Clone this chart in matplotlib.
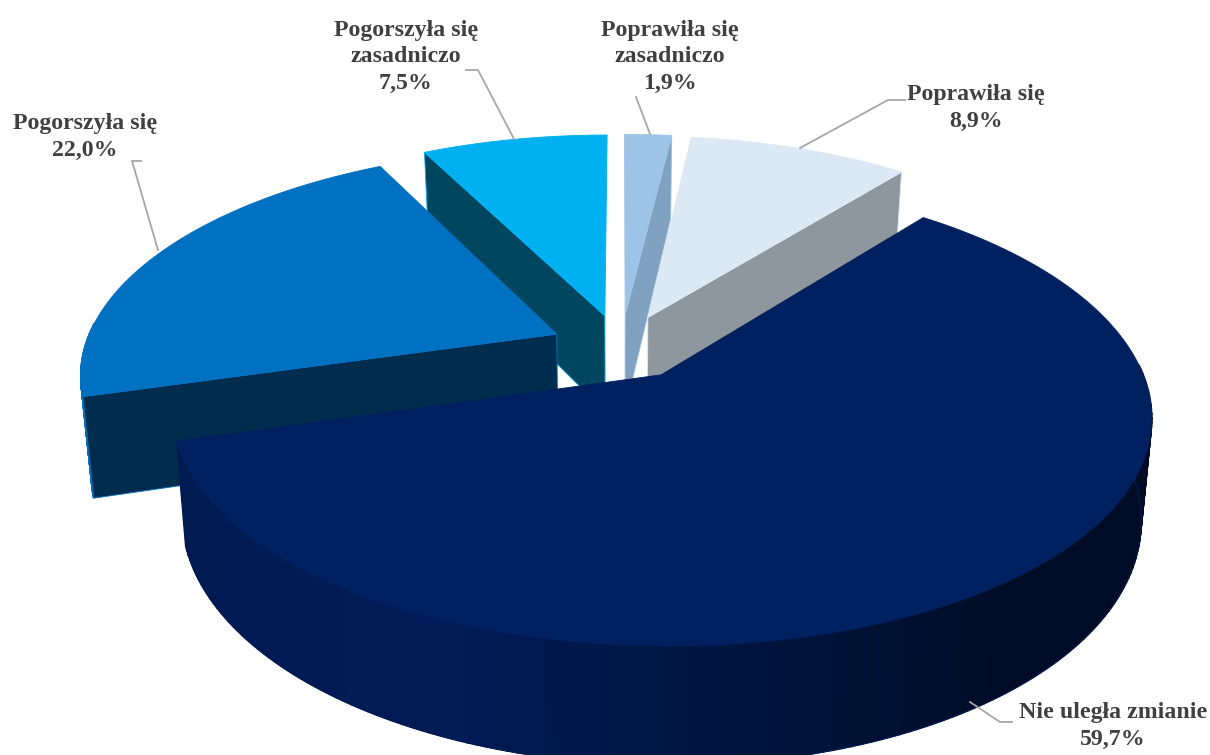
import numpy as np
import matplotlib
matplotlib.use("Agg")
import matplotlib.pyplot as plt
from matplotlib.patches import Polygon

# clockwise from 12 o'clock
labels = ["Poprawiła się\nzasadniczo\n1,9%", "Poprawiła się\n8,9%", "Nie uległa zmianie\n59,7%",
          "Pogorszyła się\n22,0%", "Pogorszyła się\nzasadniczo\n7,5%"]
values = [1.9, 8.9, 59.7, 22.0, 7.5]
top_colors = ["#9dc3e6", "#dce8f4", "#002060", "#0070c0", "#00b0f0"]
cut_colors = ["#80a2c0", "#8e979e", "#00143c", "#002c4d", "#00465f"]
draw_order = [4, 0, 1, 3, 2]

# fake 3d view, in pixels
cx, cy = 621, 347
rx, ry = 472, 218.5
persp_x = 0.168
persp_y = 0.158
depth = 98
explode = 0.15

label_pos = [(670, 57), (976, 108), (1113, 726), (85, 137), (406, 57)]
leaders = [[(636, 97), (650, 134)],
           [(905, 100), (888, 100), (800, 148)],
           [(1012, 722), (1000, 722), (970, 702)],
           [(141, 161), (132, 161), (158, 250)],
           [(466, 70), (478, 70), (514, 139)]]

# colours along the round wall of the big slice, left to right
wall_u = [-1.1, -0.3, 0.25, 0.7, 1.1]
wall_r = [0, 0, 0, 0, 0]
wall_g = [26, 27, 20, 12, 11]
wall_b = [80, 86, 60, 38, 36]


def project(u, v, z=0.0):
    # v goes to the back of the pie, z=1 is the bottom of the pie
    fx = 1 / (1 + persp_x * v)
    fy = 1 / (1 + persp_y * v)
    return cx + rx * u * fx * (1 - 0.02 * z), cy - ry * v * fy + depth * z * fy


def wall_color(u):
    r = np.interp(u, wall_u, wall_r)
    g = np.interp(u, wall_u, wall_g)
    b = np.interp(u, wall_u, wall_b)
    return (r / 255, g / 255, b / 255)


def cut_face(ou, ov, a, col, edge):
    eu, ev = ou + np.sin(a), ov + np.cos(a)
    quad = [project(ou, ov), project(eu, ev), project(eu, ev, 1), project(ou, ov, 1)]
    ax.add_patch(Polygon(quad, closed=True, fc=col, ec=edge, lw=0.6, zorder=1))


fig = plt.figure(figsize=(12.1, 7.55), dpi=100)
ax = fig.add_axes([0, 0, 1, 1])
ax.set_xlim(0, 1210)
ax.set_ylim(755, 0)
ax.axis("off")

edges = np.cumsum([0] + values) / sum(values) * 2 * np.pi

for i in draw_order:
    a1, a2 = edges[i], edges[i + 1]
    mid = (a1 + a2) / 2
    ou, ov = explode * np.sin(mid), explode * np.cos(mid)
    ang = np.linspace(a1, a2, 200)
    us = ou + np.sin(ang)
    vs = ov + np.cos(ang)

    # round wall, front part only
    for j in range(len(ang) - 1):
        if np.cos(ang[j]) > 0.05:
            continue
        quad = [project(us[j], vs[j]), project(us[j + 1], vs[j + 1]),
                project(us[j + 1], vs[j + 1], 1), project(us[j], vs[j], 1)]
        if i == 2:
            col = wall_color(us[j])
        else:
            col = top_colors[i]
        ax.add_patch(Polygon(quad, closed=True, fc=col, ec=col, lw=1.2, zorder=1))
    if i == 2:
        xb, yb = project(us[np.cos(ang) <= 0.05], vs[np.cos(ang) <= 0.05], 1)
        ax.plot(xb, yb, color="#001a50", lw=0.8, zorder=1)

    # only the cut faces turned to the viewer
    if np.sin(a1) < -1e-6:
        cut_face(ou, ov, a1, cut_colors[i], top_colors[i])
    if np.sin(a2) > 1e-6:
        cut_face(ou, ov, a2, cut_colors[i], top_colors[i])

    # top
    xt, yt = project(np.r_[ou, us], np.r_[ov, vs])
    ax.add_patch(Polygon(np.c_[xt, yt], closed=True, fc=top_colors[i], ec=top_colors[i], lw=0.6, zorder=1))

for pts in leaders:
    xs = [p[0] for p in pts]
    ys = [p[1] for p in pts]
    ax.plot(xs, ys, color="#a6a6a6", lw=1.3, zorder=2)

for lab, pos in zip(labels, label_pos):
    ax.text(pos[0], pos[1], lab, ha="center", va="center", family="Liberation Serif",
            weight="bold", fontsize=17.2, color="#404040", linespacing=1.33, zorder=3)

fig.savefig("out.png", dpi=100)
